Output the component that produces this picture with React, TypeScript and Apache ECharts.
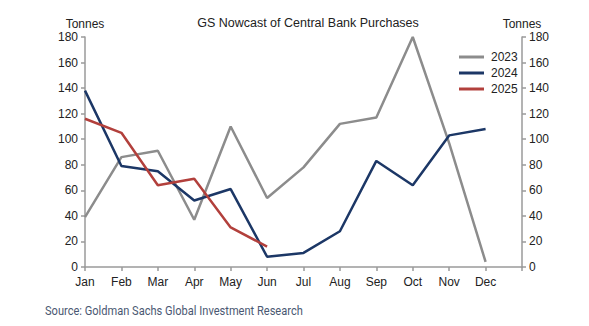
import React, { useEffect, useRef } from "react";
import * as echarts from "echarts";

const months = ["Jan", "Feb", "Mar", "Apr", "May", "Jun", "Jul", "Aug", "Sep", "Oct", "Nov", "Dec", ""];
const s2023 = [39, 86, 91, 37, 110, 54, 78, 112, 117, 180, 97, 4];
const s2024 = [138, 79, 75, 52, 61, 8, 11, 28, 83, 64, 103, 108];
const s2025 = [116, 105, 64, 69, 31, 16];
const seriesNames = ["2023", "2024", "2025"];
const seriesColors = ["#8c8c8c", "#1c3766", "#b2403c"];
const yTicks = { min: 0, max: 180, interval: 20 };

const FONT = "Liberation Sans, Arial, sans-serif";

export default function App() {
  const ref = useRef<HTMLDivElement>(null);
  useEffect(() => {
    if (!ref.current) return;
    const chart = echarts.init(ref.current, null, { renderer: "svg" });
    const axisLine = { show: true, lineStyle: { color: "#9a9a9a", width: 1.5 } };
    const axisTick = { show: true, length: 4, lineStyle: { color: "#9a9a9a", width: 1.5 } };
    const label = { color: "#222", fontSize: 12, fontFamily: FONT };
    const yBase = (pos: "left" | "right") => ({
      type: "value",
      position: pos,
      min: yTicks.min,
      max: yTicks.max,
      interval: yTicks.interval,
      axisLine,
      axisTick: { ...axisTick, inside: false },
      axisLabel: { ...label, margin: 7 },
      splitLine: { show: false },
      name: "Tonnes",
      nameLocation: "end",
      nameGap: 7,
      nameTextStyle: { ...label, align: "center", verticalAlign: "bottom" },
    });
    const data = [s2023, s2024, s2025];
    chart.setOption({
      animation: false,
      backgroundColor: "#fff",
      textStyle: { fontFamily: FONT },
      title: {
        text: "GS Nowcast of Central Bank Purchases",
        left: 303,
        top: 11,
        textAlign: "center",
        textStyle: { ...label, fontWeight: "normal", fontSize: 12.5 },
      },
      legend: {
        orient: "vertical",
        left: 454,
        top: 45,
        itemWidth: 25,
        itemHeight: 3,
        itemGap: 2,
        icon: "rect",
        textStyle: { ...label, lineHeight: 14, padding: [0, 0, 0, 2] },
        data: seriesNames,
      },
      grid: { left: 85, right: 67, top: 37, bottom: 59, containLabel: false },
      xAxis: {
        type: "category",
        data: months,
        boundaryGap: false,
        axisLine,
        axisTick: { ...axisTick, interval: 0 },
        axisLabel: { ...label, interval: 0, margin: 9 },
        splitLine: { show: false },
      },
      yAxis: [yBase("left"), yBase("right")],
      graphic: [
        {
          type: "text",
          x: 45,
          y: 304,
          scaleX: 0.887,
          style: {
            text: "Source: Goldman Sachs Global Investment Research",
            fill: "#4a5872",
            font: "12.5px Roboto, sans-serif",
          },
        },
      ],
      series: seriesNames.map((n, i) => ({
        name: n,
        type: "line",
        data: data[i],
        symbol: "none",
        yAxisIndex: 0,
        color: seriesColors[i],
        lineStyle: { width: 2.5, color: seriesColors[i] },
      })),
    });
    return () => chart.dispose();
  }, []);
  return (
    <div
      ref={ref}
      style={{ position: "fixed", left: 0, top: 0, width: 589, height: 326, background: "#fff" }}
    />
  );
}
